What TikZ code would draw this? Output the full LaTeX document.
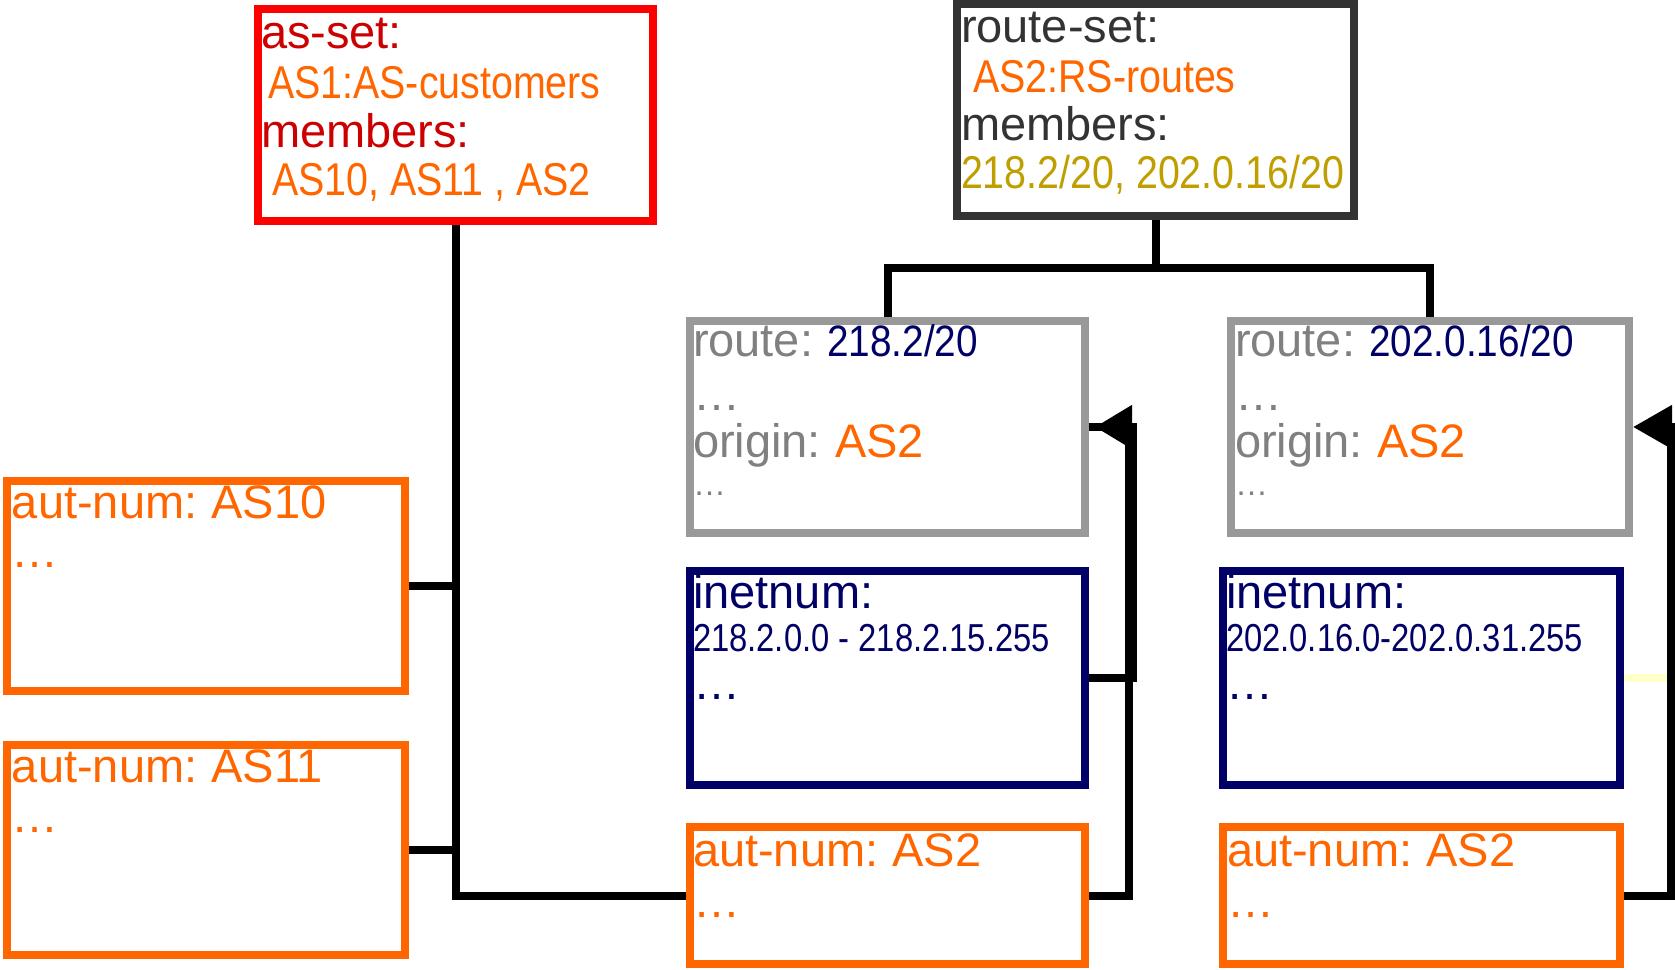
\documentclass[tikz,border=0pt]{standalone}
\usepackage{fontspec}
\setmainfont[WordSpace=0.75]{Liberation Sans}
\newfontfamily\narrowA[FakeStretch=0.856]{Liberation Sans}
\newfontfamily\narrowB[FakeStretch=0.88]{Liberation Sans}
\newfontfamily\narrowC[FakeStretch=0.84]{Liberation Sans}
\usetikzlibrary{arrows.meta}
\definecolor{cRed}{HTML}{FF0000}
\definecolor{cDarkRed}{HTML}{CC0000}
\definecolor{cOrange}{HTML}{FF6600}
\definecolor{cDark}{HTML}{333333}
\definecolor{cGold}{HTML}{BF9F00}
\definecolor{cGrayBox}{HTML}{999999}
\definecolor{cGrayText}{HTML}{808080}
\definecolor{cNavy}{HTML}{000066}
\definecolor{cPale}{HTML}{FFFFCC}
\newcommand{\bigf}{\fontsize{47}{47}\selectfont}
\newcommand{\nA}{\narrowA\fontsize{46}{46}\selectfont}
\newcommand{\nB}{\narrowB\fontsize{44}{44}\selectfont}
\newcommand{\nC}{\narrowC\fontsize{39}{39}\selectfont}
\tikzset{
  objbox/.style={draw, rectangle, line width=8pt, inner sep=0pt, outer sep=4pt, minimum width=#1},
  txt/.style={anchor=base west, inner sep=0pt, outer sep=0pt, font=\bigf},
  conn/.style={draw=black, line width=8pt},
}
\begin{document}
\begin{tikzpicture}[x=1pt,y=-1pt]
\useasboundingbox (0,0) rectangle (1675,969);
% boxes
\node[objbox=395pt, draw=cRed, minimum height=212pt] (asset) at (455.5,115) {};
\node[objbox=397pt, draw=cDark, minimum height=212pt] (rset) at (1155.5,110) {};
\node[objbox=395pt, draw=cGrayBox, minimum height=212pt] (route1) at (887.5,427) {};
\node[objbox=398pt, draw=cGrayBox, minimum height=212pt] (route2) at (1430,427) {};
\node[objbox=395pt, draw=cNavy, minimum height=214pt] (inet1) at (887.5,678) {};
\node[objbox=397pt, draw=cNavy, minimum height=214pt] (inet2) at (1421.5,678) {};
\node[objbox=395pt, draw=cOrange, minimum height=137pt] (an2a) at (887.5,895.5) {};
\node[objbox=397pt, draw=cOrange, minimum height=137pt] (an2b) at (1421.5,895.5) {};
\node[objbox=398pt, draw=cOrange, minimum height=210pt] (as10) at (206,586) {};
\node[objbox=398pt, draw=cOrange, minimum height=210pt] (as11) at (206,850) {};
% texts: as-set
\node[txt, text=cDarkRed] (t1) at (261,48) {as-set:};
\node[txt, text=cOrange, font=\nA] (t2) at (268,98) {AS1:AS-customers};
\node[txt, text=cDarkRed] (t3) at (261,147) {members:};
\node[txt, text=cOrange, font=\nA] (t4) at (272,195) {AS10, AS11 , AS2};
% route-set
\node[txt, text=cDark] (t5) at (961,42) {route-set:};
\node[txt, text=cOrange, font=\nA] (t6) at (973,92) {AS2:RS-routes};
\node[txt, text=cDark] (t7) at (961,140) {members:};
\node[txt, text=cGold, font=\nA] (t8) at (961,188) {218.2/20, 202.0.16/20};
% route 1
\node[txt, text=cGrayText] (r1a) at (693,356) {route: {\nB\color{cNavy}218.2/20}};
\node[txt, text=cGrayText] (r1b) at (693,410) {…};
\node[txt, text=cGrayText] (r1c) at (693,457) {origin: {\color{cOrange}AS2}};
\node[txt, text=cGrayText, font=\fontsize{33}{33}\selectfont] (r1d) at (693,495) {…};
% route 2
\node[txt, text=cGrayText] (r2a) at (1235,356) {route: {\nB\color{cNavy}202.0.16/20}};
\node[txt, text=cGrayText] (r2b) at (1235,410) {…};
\node[txt, text=cGrayText] (r2c) at (1235,457) {origin: {\color{cOrange}AS2}};
\node[txt, text=cGrayText, font=\fontsize{33}{33}\selectfont] (r2d) at (1235,495) {…};
% inetnum 1
\node[txt, text=cNavy] (i1a) at (693,608) {inetnum:};
\node[txt, text=cNavy, font=\nC] (i1b) at (693,651) {218.2.0.0 - 218.2.15.255};
\node[txt, text=cNavy] (i1c) at (693,699) {…};
% inetnum 2
\node[txt, text=cNavy] (i2a) at (1226,608) {inetnum:};
\node[txt, text=cNavy, font=\nC] (i2b) at (1226,651) {202.0.16.0-202.0.31.255};
\node[txt, text=cNavy] (i2c) at (1226,699) {…};
% aut-num AS2 boxes
\node[txt, text=cOrange] (a1a) at (693,866) {aut-num: AS2};
\node[txt, text=cOrange] (a1b) at (693,917) {…};
\node[txt, text=cOrange] (a2a) at (1227,866) {aut-num: AS2};
\node[txt, text=cOrange] (a2b) at (1227,917) {…};
% AS10 / AS11
\node[txt, text=cOrange] (a3a) at (12,518) {aut-num: AS10};
\node[txt, text=cOrange] (a3b) at (12,567) {…};
\node[txt, text=cOrange] (a4a) at (12,782) {aut-num: AS11};
\node[txt, text=cOrange] (a4b) at (12,832) {…};
% connectors: as-set tree
\draw[conn] (asset.south) |- (an2a.west);
\draw[conn] (as10.east) -- (as10.east -| asset.south);
\draw[conn] (as11.east) -- (as11.east -| asset.south);
% route-set tree
\coordinate (bus) at (0,268);
\draw[conn] (rset.south) -- (rset.south |- bus);
\draw[conn] (route1.north) -- (route1.north |- bus) -- (route2.north |- bus) -- (route2.north);
% references to routes
\coordinate (xA) at (1129,0);
\coordinate (xB) at (1133,0);
\coordinate (xC) at (1671,0);
\draw[conn] (an2a.east) -- (an2a.east -| xA) |- (route1.east);
\draw[conn, -{Triangle[length=37pt,width=42pt]}, shorten >=6pt] (inet1.east) -- (inet1.east -| xB) |- (route1.east);
\draw[conn, draw=cPale] (inet2.east) -- (inet2.east -| xC);
\draw[conn, -{Triangle[length=39pt,width=42pt]}] (an2b.east) -- (an2b.east -| xC) |- (route2.east);
\end{tikzpicture}
\end{document}
